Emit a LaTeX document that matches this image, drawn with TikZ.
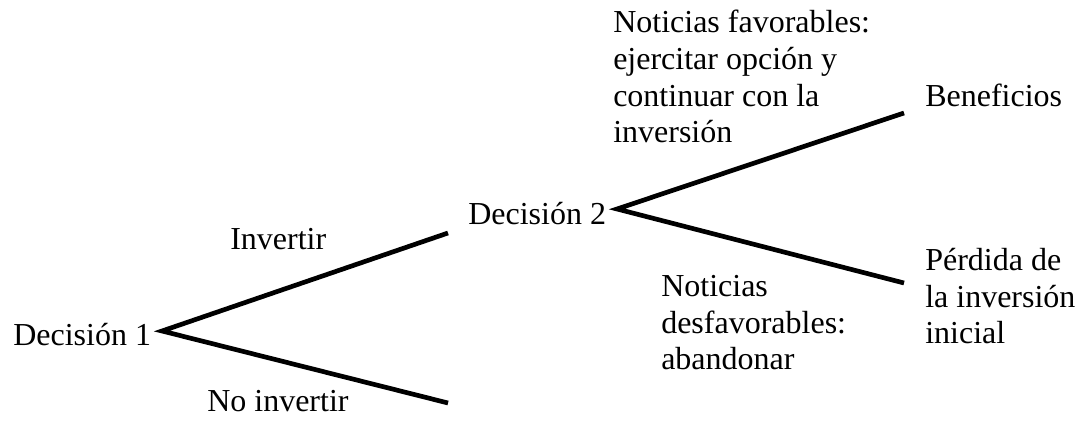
\documentclass[tikz,border=0pt]{standalone}
\usepackage{fontspec}
\setmainfont{Liberation Serif}
\usetikzlibrary{positioning}

\begin{document}
\begin{tikzpicture}[x=0.75pt, y=-0.75pt,
    font=\fontsize{24}{27.6}\selectfont,
    lbl/.style={inner sep=0pt, anchor=base west, align=left},
    branch/.style={line width=3.5pt}]
  \useasboundingbox (0,0) rectangle (1078,423);

  % decisiones
  \node[lbl] (dec1) at (13,346) {Decisión 1};
  \node[lbl] (dec2) at (468,225) {Decisión 2};
  \coordinate (v1) at (162,331);
  \coordinate (v2) at (617,209);

  % extremos de las ramas
  \coordinate (inv) at (448,233);
  \coordinate (noinv) at (448,403);
  \coordinate (fav) at (904,113);
  \coordinate (desfav) at (904,283);

  \draw[branch] (inv) -- (v1) -- (noinv);
  \draw[branch] (fav) -- (v2) -- (desfav);

  % etiquetas (base = ultima linea)
  \node[lbl] (linv) at (230,250) {Invertir};
  \node[lbl] (lnoinv) at (207,412) {No invertir};
  \node[lbl] (lfav) at (613,143) {Noticias favorables:\\ejercitar opción y\\continuar con la\\inversión};
  \node[lbl] (ldesfav) at (661,370) {Noticias\\desfavorables:\\abandonar};
  \node[lbl] (benef) at (925,107) {Beneficios};
  \node[lbl] (perd) at (925,344) {Pérdida de\\la inversión\\inicial};
\end{tikzpicture}
\end{document}
